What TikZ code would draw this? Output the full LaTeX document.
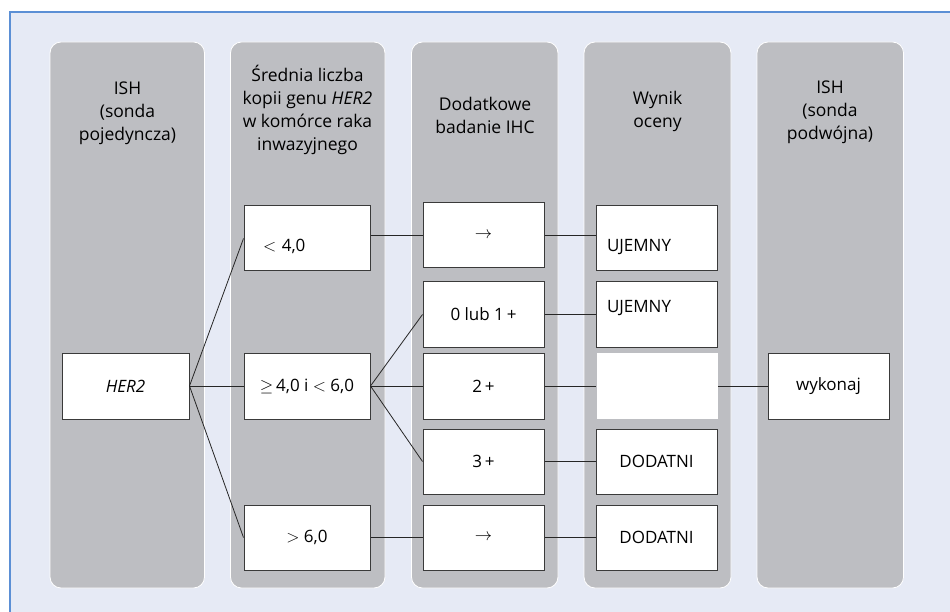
\documentclass[tikz,border=0pt]{standalone}
\usepackage{fontspec}
\setmainfont{Open Sans}
\usetikzlibrary{calc}

\definecolor{panelbg}{HTML}{E6EAF5}
\definecolor{panelline}{HTML}{5B8FD5}
\definecolor{colgray}{HTML}{BDBEC2}
\definecolor{boxline}{HTML}{3A3A3A}

\newcommand{\shifted}[2]{\raisebox{#1}[0pt][0pt]{#2}}

\tikzset{
  column/.style={fill=colgray, draw=white, line width=0.8pt, rounded corners=11pt},
  head/.style={align=center, font=\fontsize{17.5}{23}\selectfont, text=black},
  cell/.style={draw=boxline, fill=white, line width=1pt, minimum width=121pt,
               minimum height=65pt, inner sep=0pt, font=\fontsize{17}{19}\selectfont},
  wide/.style={minimum width=126pt},
  blank/.style={draw=none},
  link/.style={draw=black!85, line width=0.8pt}
}

\begin{document}
\begin{tikzpicture}[x=1pt, y=-1pt]
  \useasboundingbox (0,0) rectangle (950,612);

  % background panel with blue top and left edges
  \fill[panelbg] (10,12) rectangle (950,612);
  \draw[panelline, line width=1.3pt] (10,612) -- (10,12) -- (950,12);

  % column bands
  \draw[column] (50,42) rectangle (204.5,588);
  \draw[column] (230.5,42) rectangle (385,588);
  \draw[column] (411.5,42) rectangle (558,588);
  \draw[column] (584,42) rectangle (731,588);
  \draw[column] (757,42) rectangle (903.5,588);

  % column headings
  \node[head] (h1) at (127.5,113) {ISH\\(sonda\\pojedyncza)};
  \node[head] (h2) at (307.5,110) {Średnia liczba\\kopii genu \textit{HER2}\\w komórce raka\\inwazyjnego};
  \node[head] (h3) at (485,115) {Dodatkowe\\badanie IHC};
  \node[head] (h4) at (657.5,111) {Wynik\\oceny};
  \node[head] (h5) at (830,112) {ISH\\(sonda\\podwójna)};

  % column 1
  \node[cell, minimum width=127pt, minimum height=66pt] (her) at (125.5,386) {\textit{HER2}};

  % column 2
  \node[cell, wide, text width=88pt, align=left] (lt) at (307,238.5) {\shifted{-13pt}{$<$ 4,0}};
  \node[cell, wide, minimum height=66pt] (mid) at (307,386) {$\geq$\,4,0 i $<$ 6,0};
  \node[cell, wide] (gt) at (307,537.5) {$>$ 6,0};

  % column 3
  \node[cell] (a1) at (483.5,235) {$\rightarrow$};
  \node[cell] (i01) at (483.5,314.5) {0 lub 1\,+};
  \node[cell, minimum height=66pt] (i2) at (483.5,386) {2\,+};
  \node[cell] (i3) at (483.5,461.5) {3\,+};
  \node[cell] (a2) at (483.5,537.5) {$\rightarrow$};

  % column 4
  \node[cell, text width=99pt, align=left] (neg1) at (656.5,238.5) {\shifted{-13pt}{UJEMNY}};
  \node[cell, text width=99pt, align=left] (neg2) at (656.5,314.5) {\shifted{2pt}{UJEMNY}};
  \node[cell, blank, minimum height=66pt] (none) at (657,386) {};
  \node[cell] (pos1) at (656.5,461.5) {DODATNI};
  \node[cell] (pos2) at (656.5,537.5) {DODATNI};

  % column 5
  \node[cell, minimum height=66pt] (do) at (828.5,386) {wykonaj};

  % connectors
  \draw[link] (her.east) -- (lt.west);
  \draw[link] (her.east) -- (mid.west);
  \draw[link] (her.east) -- (gt.west);

  \draw[link] (a1.west -| lt.east) -- (a1.west);
  \draw[link] (a1.east) -- (a1.east -| neg1.west);

  \draw[link] (mid.east) -- (i01.west);
  \draw[link] (mid.east) -- (i2.west);
  \draw[link] (mid.east) -- (i3.west);

  \draw[link] (i01.east) -- (neg2.west);
  \draw[link] (i2.east) -- (none.west);
  \draw[link] (none.east) -- (do.west);
  \draw[link] (i3.east) -- (pos1.west);

  \draw[link] (gt.east) -- (a2.west);
  \draw[link] (a2.east) -- (pos2.west);
\end{tikzpicture}
\end{document}
